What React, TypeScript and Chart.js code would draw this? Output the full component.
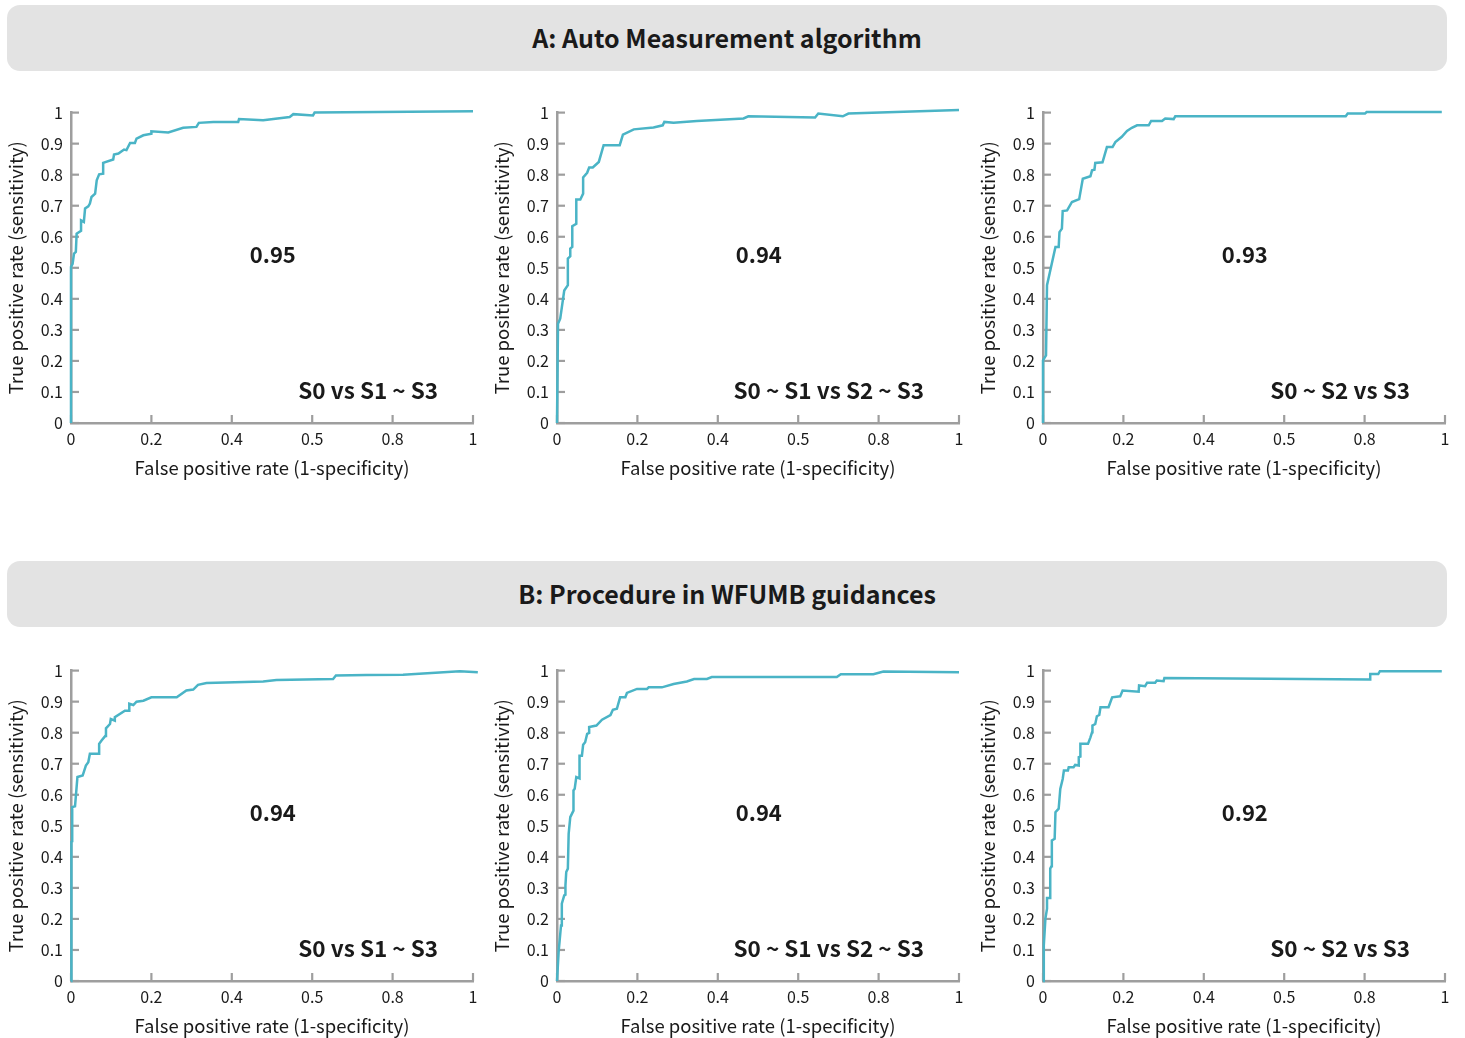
import React, { useEffect, useRef } from "react";
import { Chart, registerables } from "chart.js";

Chart.register(...registerables);

const FONT = '"Noto Sans CJK SC", "Noto Sans", sans-serif';
const LINE_COLOR = "#4ab4c6";
const AXIS_COLOR = "#9e9e9e";
const TEXT_COLOR = "#1a1a1a";

// Axis ticks (the reference labels the 0.6 position as "0.5")
const xTickLabels = ["0", "0.2", "0.4", "0.5", "0.8", "1"];
const yTickLabels = ["0", "0.1", "0.2", "0.3", "0.4", "0.5", "0.6", "0.7", "0.8", "0.9", "1"];
const xAxisTitle = "False positive rate (1-specificity)";
const yAxisTitle = "True positive rate (sensitivity)";

const sectionTitles = ["A: Auto Measurement algorithm", "B: Procedure in WFUMB guidances"];
const comparisonLabels = ["S0 vs S1 ~ S3", "S0 ~ S1 vs S2 ~ S3", "S0 ~ S2 vs S3"];
const aucA = ["0.95", "0.94", "0.93"];
const aucB = ["0.94", "0.94", "0.92"];

// A: Auto Measurement algorithm
const fprA1 = [0, 0, 0.004, 0.0075, 0.012, 0.014, 0.025, 0.025, 0.032, 0.035, 0.043, 0.047, 0.051, 0.06, 0.064, 0.07, 0.08, 0.08, 0.105, 0.107, 0.118, 0.132, 0.138, 0.147, 0.159, 0.163, 0.18, 0.2, 0.2, 0.242, 0.279, 0.312, 0.318, 0.354, 0.416, 0.418, 0.478, 0.544, 0.553, 0.602, 0.606, 1.0];
const tprA1 = [0, 0.503, 0.513, 0.546, 0.551, 0.61, 0.619, 0.653, 0.648, 0.691, 0.698, 0.707, 0.728, 0.739, 0.782, 0.801, 0.803, 0.838, 0.849, 0.865, 0.868, 0.881, 0.879, 0.902, 0.902, 0.916, 0.927, 0.932, 0.94, 0.936, 0.951, 0.954, 0.967, 0.97, 0.97, 0.979, 0.975, 0.986, 0.995, 0.991, 1.0, 1.004];

const fprA2 = [0, 0.0025, 0.008, 0.018, 0.027, 0.027, 0.033, 0.033, 0.038, 0.038, 0.048, 0.048, 0.058, 0.065, 0.065, 0.075, 0.08, 0.089, 0.104, 0.116, 0.156, 0.164, 0.191, 0.24, 0.263, 0.267, 0.29, 0.348, 0.464, 0.476, 0.642, 0.65, 0.711, 0.725, 1.0];
const tprA2 = [0, 0.32, 0.336, 0.427, 0.444, 0.53, 0.537, 0.562, 0.567, 0.634, 0.642, 0.72, 0.72, 0.739, 0.791, 0.806, 0.823, 0.823, 0.841, 0.895, 0.895, 0.929, 0.946, 0.952, 0.959, 0.97, 0.967, 0.973, 0.981, 0.988, 0.984, 0.997, 0.988, 0.997, 1.008];

const fprA3 = [0, 0, 0.0075, 0.01, 0.031, 0.039, 0.041, 0.047, 0.049, 0.06, 0.072, 0.09, 0.099, 0.118, 0.122, 0.128, 0.13, 0.148, 0.159, 0.173, 0.18, 0.196, 0.209, 0.221, 0.234, 0.263, 0.269, 0.296, 0.304, 0.325, 0.329, 0.753, 0.758, 0.801, 0.805, 0.992];
const tprA3 = [0, 0.202, 0.218, 0.444, 0.567, 0.567, 0.615, 0.626, 0.683, 0.685, 0.712, 0.721, 0.787, 0.795, 0.814, 0.816, 0.838, 0.84, 0.889, 0.889, 0.905, 0.922, 0.941, 0.951, 0.959, 0.959, 0.973, 0.973, 0.981, 0.979, 0.988, 0.988, 0.997, 0.997, 1.002, 1.002];

// B: Procedure in WFUMB guidances
const fprB1 = [0, 0.001, 0.004, 0.003, 0.01, 0.016, 0.029, 0.037, 0.043, 0.047, 0.07, 0.07, 0.076, 0.085, 0.087, 0.097, 0.099, 0.109, 0.109, 0.134, 0.145, 0.145, 0.155, 0.163, 0.18, 0.2, 0.263, 0.287, 0.304, 0.316, 0.337, 0.478, 0.511, 0.652, 0.659, 0.735, 0.826, 0.967, 1.012];
const tprB1 = [0, 0.447, 0.447, 0.56, 0.563, 0.657, 0.662, 0.694, 0.705, 0.732, 0.732, 0.764, 0.775, 0.789, 0.814, 0.828, 0.844, 0.839, 0.85, 0.871, 0.871, 0.893, 0.889, 0.9, 0.903, 0.914, 0.914, 0.936, 0.939, 0.954, 0.96, 0.965, 0.97, 0.973, 0.984, 0.986, 0.987, 0.998, 0.995];

const fprB2 = [0, 0.004, 0.01, 0.012, 0.018, 0.021, 0.021, 0.023, 0.027, 0.029, 0.033, 0.041, 0.041, 0.044, 0.048, 0.056, 0.056, 0.062, 0.065, 0.07, 0.075, 0.08, 0.08, 0.098, 0.112, 0.133, 0.139, 0.149, 0.157, 0.17, 0.174, 0.199, 0.224, 0.228, 0.261, 0.29, 0.323, 0.341, 0.373, 0.385, 0.696, 0.706, 0.787, 0.812, 1.0];
const tprB2 = [0, 0.093, 0.179, 0.249, 0.276, 0.278, 0.308, 0.351, 0.362, 0.474, 0.528, 0.549, 0.614, 0.619, 0.657, 0.653, 0.726, 0.726, 0.761, 0.769, 0.796, 0.799, 0.818, 0.823, 0.842, 0.857, 0.874, 0.877, 0.914, 0.914, 0.928, 0.941, 0.941, 0.946, 0.946, 0.957, 0.965, 0.973, 0.973, 0.979, 0.979, 0.988, 0.988, 0.997, 0.995];

const fprB3 = [0, 0.002, 0.006, 0.01, 0.01, 0.018, 0.018, 0.021, 0.022, 0.029, 0.031, 0.039, 0.043, 0.049, 0.052, 0.062, 0.064, 0.076, 0.08, 0.089, 0.089, 0.093, 0.093, 0.112, 0.118, 0.122, 0.123, 0.13, 0.134, 0.14, 0.143, 0.163, 0.172, 0.192, 0.198, 0.238, 0.239, 0.254, 0.259, 0.279, 0.283, 0.3, 0.302, 0.814, 0.814, 0.834, 0.838, 0.992];
const tprB3 = [0, 0.115, 0.201, 0.233, 0.267, 0.267, 0.362, 0.37, 0.453, 0.458, 0.544, 0.555, 0.619, 0.651, 0.678, 0.678, 0.689, 0.689, 0.696, 0.694, 0.721, 0.723, 0.764, 0.764, 0.785, 0.801, 0.823, 0.828, 0.853, 0.857, 0.882, 0.882, 0.914, 0.917, 0.936, 0.932, 0.952, 0.95, 0.961, 0.961, 0.968, 0.966, 0.976, 0.971, 0.989, 0.989, 0.998, 0.998];

const panelsA = [
  { fpr: fprA1, tpr: tprA1, auc: aucA[0], label: comparisonLabels[0] },
  { fpr: fprA2, tpr: tprA2, auc: aucA[1], label: comparisonLabels[1] },
  { fpr: fprA3, tpr: tprA3, auc: aucA[2], label: comparisonLabels[2] },
];
const panelsB = [
  { fpr: fprB1, tpr: tprB1, auc: aucB[0], label: comparisonLabels[0] },
  { fpr: fprB2, tpr: tprB2, auc: aucB[1], label: comparisonLabels[1] },
  { fpr: fprB3, tpr: tprB3, auc: aucB[2], label: comparisonLabels[2] },
];

const CANVAS_W = 490;
const CANVAS_H = 400;

const innerTicksPlugin = {
  id: "innerTicks",
  beforeDatasetsDraw(chart: any) {
    const { ctx, chartArea, scales } = chart;
    const len = 8;
    ctx.save();
    ctx.strokeStyle = AXIS_COLOR;
    ctx.lineWidth = 2.2;
    scales.y.ticks.forEach((t: any) => {
      const y = scales.y.getPixelForValue(t.value);
      ctx.beginPath();
      ctx.moveTo(chartArea.left, y);
      ctx.lineTo(chartArea.left + len, y);
      ctx.stroke();
    });
    scales.x.ticks.forEach((t: any) => {
      const x = scales.x.getPixelForValue(t.value);
      ctx.beginPath();
      ctx.moveTo(x, chartArea.bottom);
      ctx.lineTo(x, chartArea.bottom - len);
      ctx.stroke();
    });
    ctx.restore();
  },
};

const rocTextPlugin = {
  id: "rocText",
  afterDatasetsDraw(chart: any, _args: any, opts: any) {
    const { ctx, scales } = chart;
    ctx.save();
    ctx.fillStyle = TEXT_COLOR;
    ctx.textBaseline = "middle";
    ctx.font = `bold 22px ${FONT}`;
    ctx.textAlign = "center";
    ctx.fillText(opts.auc, scales.x.getPixelForValue(0.502), scales.y.getPixelForValue(0.543));
    ctx.font = `bold 22.5px ${FONT}`;
    ctx.textAlign = "right";
    ctx.fillText(opts.label, scales.x.getPixelForValue(0.913), scales.y.getPixelForValue(0.104));
    ctx.restore();
  },
};

function RocChart({ fpr, tpr, auc, label, left, top }: any) {
  const ref = useRef<HTMLCanvasElement | null>(null);
  useEffect(() => {
    if (!ref.current) return;
    const chart = new Chart(ref.current, {
      type: "line",
      data: {
        datasets: [
          {
            data: fpr.map((x: number, i: number) => ({ x, y: tpr[i] })),
            borderColor: LINE_COLOR,
            borderWidth: 2.5,
            pointRadius: 0,
            tension: 0,
            fill: false,
            clip: false as any,
          },
        ],
      },
      options: {
        animation: false,
        responsive: false,
        events: [],
        layout: { padding: { left: 0, top: 17, right: 17, bottom: 0 } },
        plugins: {
          legend: { display: false },
          tooltip: { enabled: false },
          rocText: { auc, label },
        } as any,
        scales: {
          x: {
            type: "linear",
            min: 0,
            max: 1,
            ticks: {
              stepSize: 0.2,
              autoSkip: false,
              maxRotation: 0,
              padding: 6,
              color: TEXT_COLOR,
              font: { family: FONT, size: 16 },
              callback: (_v: any, i: number) => xTickLabels[i],
            },
            grid: { display: false, drawTicks: false },
            border: { display: true, color: AXIS_COLOR, width: 2.5 },
            title: {
              display: true,
              text: xAxisTitle,
              color: TEXT_COLOR,
              font: { family: FONT, size: 18.5 },
              padding: { top: 0, bottom: 16 },
            },
            afterFit: (s: any) => {
              s.height = 72;
            },
          },
          y: {
            type: "linear",
            min: 0,
            max: 1,
            ticks: {
              stepSize: 0.1,
              autoSkip: false,
              padding: 8,
              color: TEXT_COLOR,
              font: { family: FONT, size: 16 },
              callback: (_v: any, i: number) => yTickLabels[i],
            },
            grid: { display: false, drawTicks: false },
            border: { display: true, color: AXIS_COLOR, width: 2.5 },
            title: {
              display: true,
              text: yAxisTitle,
              color: TEXT_COLOR,
              font: { family: FONT, size: 18.5 },
              padding: { top: 5, bottom: 0 },
            },
            afterFit: (s: any) => {
              s.width = 71;
            },
          },
        },
      },
      plugins: [innerTicksPlugin, rocTextPlugin],
    });
    return () => chart.destroy();
  }, []);
  return (
    <canvas
      ref={ref}
      width={CANVAS_W}
      height={CANVAS_H}
      style={{ position: "absolute", left, top, width: CANVAS_W, height: CANVAS_H }}
    />
  );
}

function Banner({ text, top }: { text: string; top: number }) {
  return (
    <div
      style={{
        position: "absolute",
        left: 7,
        top,
        width: 1440,
        height: 66,
        borderRadius: 13,
        background: "#e3e3e3",
        display: "flex",
        alignItems: "center",
        justifyContent: "center",
        boxSizing: "border-box",
        paddingBottom: 3,
        fontFamily: FONT,
        fontWeight: 700,
        fontSize: 25,
        color: TEXT_COLOR,
      }}
    >
      {text}
    </div>
  );
}

export default function App() {
  const colLefts = [0, 486, 972];
  return (
    <div
      style={{
        position: "absolute",
        left: 0,
        top: 0,
        width: 1465,
        height: 1038,
        background: "#ffffff",
        overflow: "hidden",
      }}
    >
      <Banner text={sectionTitles[0]} top={5} />
      <Banner text={sectionTitles[1]} top={561} />
      {panelsA.map((p, i) => (
        <RocChart key={"a" + i} {...p} left={colLefts[i]} top={95} />
      ))}
      {panelsB.map((p, i) => (
        <RocChart key={"b" + i} {...p} left={colLefts[i]} top={653} />
      ))}
    </div>
  );
}
